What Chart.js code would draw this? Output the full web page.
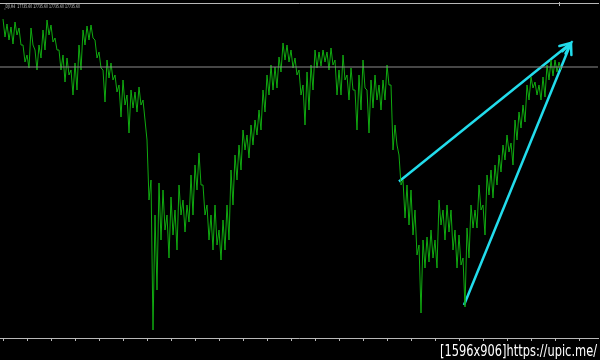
<!DOCTYPE html>
<html>
<head>
<meta charset="utf-8">
<script src="https://cdn.jsdelivr.net/npm/chart.js@4"></script>
<style>
  html, body { margin: 0; padding: 0; background: #000; }
  #wrap { width: 600px; height: 360px; position: relative; }
</style>
</head>
<body>
<div id="wrap"><canvas id="priceChart"></canvas></div>
<script>
// _DJI H4, one entry per bar group (high / low)
const highs = [
  18390, 18340, 18310, 18360, 18300, 18130, 18030, 18300, 18080, 18130,
  18280, 18380, 18330, 18200, 18080, 18030, 18000, 17880, 17950, 18130,
  18280, 18320, 18330, 18180, 18060, 17880, 17980, 17950, 17830, 17730,
  17780, 17630, 17680, 17660, 17710, 17580, 17180, 16780, 16430, 16750,
  16680, 16430, 16610, 16480, 16730, 16580, 16530, 16830, 16930, 17050,
  16730, 16530, 16430, 16530, 16280, 16380, 16530, 16880, 17030, 17130,
  17280, 17230, 17330, 17380, 17480, 17680, 17830, 17930, 17910, 18010,
  18150, 18130, 18080, 18000, 17880, 17730, 17860, 17930, 18080, 18060,
  18080, 18060, 18100, 17980, 17880, 18030, 17830, 17900, 17680, 17830,
  17980, 17680, 17780, 17830, 17730, 17780, 17930, 17730, 17330, 17030,
  16780, 16730, 16680, 16480, 16130, 16180, 16210, 16280, 16180, 16580,
  16480, 16530, 16480, 16280, 16230, 16000, 16300, 16530, 16480, 16730,
  16530, 16830, 16880, 16930, 17030, 17130, 17230, 17150, 17380, 17460,
  17530, 17730, 17810, 17760, 17730, 17810, 17930, 17980, 17980, 17960
];
const lows = [
  18210, 18180, 18140, 18230, 18130, 17960, 17900, 18130, 17880, 18000,
  18080, 18230, 18160, 18080, 17880, 17760, 17830, 17630, 17680, 17880,
  18130, 18180, 18200, 18000, 17900, 17560, 17800, 17780, 17660, 17410,
  17530, 17250, 17500, 17460, 17530, 17380, 16580, 15280, 15680, 16180,
  16280, 16000, 16230, 16080, 16430, 16260, 16360, 16430, 16680, 16730,
  16430, 16180, 16080, 16130, 15980, 16080, 16180, 16530, 16780, 16880,
  17080, 17000, 17130, 17230, 17280, 17460, 17630, 17680, 17700, 17860,
  17980, 17960, 17900, 17830, 17630, 17330, 17480, 17680, 17900, 17920,
  17960, 17880, 17930, 17630, 17630, 17780, 17580, 17680, 17280, 17480,
  17700, 17250, 17500, 17580, 17480, 17580, 17730, 17080, 17130, 16730,
  16400, 16330, 16230, 16030, 15450, 15900, 15960, 16000, 15900, 16330,
  16180, 16260, 16080, 15900, 15930, 15510, 16000, 16300, 16300, 16480,
  16230, 16630, 16600, 16730, 16860, 16980, 17060, 16930, 17180, 17300,
  17360, 17580, 17700, 17630, 17580, 17610, 17780, 17820, 17860, 17880
];
const bidPrice = 17910;
const headerText = '_DJI,H4  17735.60 17735.60 17735.60 17735.60';
const footerText = '[1596x906]https://upic.me/';
// trend arrows: [startBar, startPrice, endBar, endPrice]
const arrowUpper = [99, 16765, 142, 18150];
const arrowLower = [115.25, 15530, 142, 18150];

const priceMin = 15200, priceMax = 18550;
const barMin = -0.75, barMax = 148.75;

// zigzag high -> low for each bar so it reads as a dense bar chart
const zigzag = [];
highs.forEach((h, i) => {
  zigzag.push({ x: i, y: h });
  zigzag.push({ x: i + 0.5, y: lows[i] });
});

const cyan = '#22dcec';

const arrowLine = a => ({
  data: [{ x: a[0], y: a[1] }, { x: a[2], y: a[3] }],
  borderColor: cyan,
  borderWidth: 2.5,
  pointRadius: 0,
  tension: 0
});

const terminal = {
  id: 'terminal',
  beforeDraw(chart) {
    const c = chart.ctx;
    c.save();
    c.fillStyle = '#000';
    c.fillRect(0, 0, chart.width, chart.height);
    c.restore();
  },
  afterDatasetsDraw(chart) {
    const c = chart.ctx;
    const x = chart.scales.x, y = chart.scales.y;
    const area = chart.chartArea;
    c.save();
    // frame
    c.strokeStyle = '#b8b8b8';
    c.lineWidth = 1;
    c.beginPath();
    c.moveTo(0, area.top + 0.5);
    c.lineTo(chart.width - 1, area.top + 0.5);
    c.moveTo(0, area.bottom + 0.5);
    c.lineTo(chart.width - 1, area.bottom + 0.5);
    c.stroke();
    // time ticks under the bottom line
    c.beginPath();
    for (let b = 0; b <= barMax; b += 6) {
      const px = Math.round(x.getPixelForValue(b)) + 0.5;
      c.moveTo(px, area.bottom);
      c.lineTo(px, area.bottom + 3);
    }
    c.stroke();
    // current bar mark on the top edge
    const last = Math.round(x.getPixelForValue(highs.length - 1)) + 0.5;
    c.beginPath();
    c.moveTo(last, area.top - 1);
    c.lineTo(last, area.top + 3);
    c.stroke();
    // arrow heads (open V)
    c.strokeStyle = cyan;
    c.lineWidth = 2.5;
    c.lineCap = 'round';
    [arrowUpper, arrowLower].forEach(a => {
      const x0 = x.getPixelForValue(a[0]), y0 = y.getPixelForValue(a[1]);
      const x1 = x.getPixelForValue(a[2]), y1 = y.getPixelForValue(a[3]);
      const ang = Math.atan2(y1 - y0, x1 - x0);
      const len = 12, half = 0.42;
      c.beginPath();
      c.moveTo(x1 - len * Math.cos(ang - half), y1 - len * Math.sin(ang - half));
      c.lineTo(x1, y1);
      c.lineTo(x1 - len * Math.cos(ang + half), y1 - len * Math.sin(ang + half));
      c.stroke();
    });
    // texts
    c.fillStyle = '#c8c8c8';
    c.font = '5px "DejaVu Sans"';
    c.textBaseline = 'top';
    c.fillText(headerText, 4, 4.5, 76);
    c.fillStyle = '#ffffff';
    c.font = '15px "DejaVu Sans"';
    c.textBaseline = 'alphabetic';
    c.fillText(footerText, 440, 356, 157);
    c.restore();
  }
};

new Chart(document.getElementById('priceChart'), {
  type: 'line',
  data: {
    datasets: [
      {
        data: [{ x: barMin, y: bidPrice }, { x: barMax, y: bidPrice }],
        borderColor: '#8c8c8c',
        borderWidth: 1,
        pointRadius: 0
      },
      {
        data: zigzag,
        borderColor: '#10aa10',
        borderWidth: 1,
        pointRadius: 0,
        tension: 0
      },
      arrowLine(arrowUpper),
      arrowLine(arrowLower)
    ]
  },
  options: {
    responsive: true,
    maintainAspectRatio: false,
    animation: false,
    layout: { padding: { left: 0, right: 2, top: 3, bottom: 22 } },
    plugins: { legend: { display: false }, tooltip: { enabled: false } },
    scales: {
      x: { type: 'linear', min: barMin, max: barMax, display: false },
      y: { min: priceMin, max: priceMax, display: false }
    }
  },
  plugins: [terminal]
});
</script>
</body>
</html>
